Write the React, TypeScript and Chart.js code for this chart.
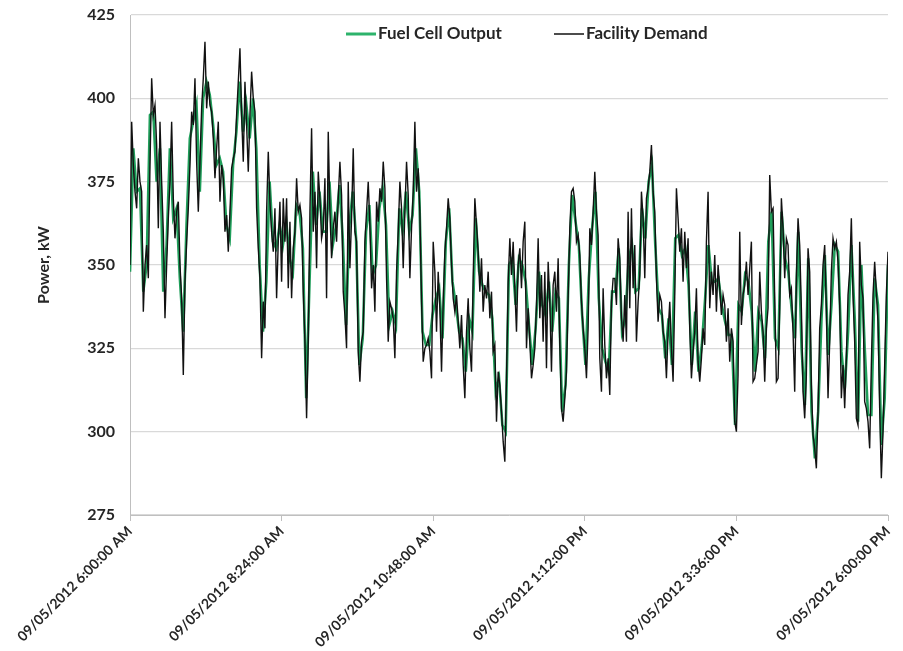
import { useEffect, useRef } from 'react';
import { Chart, registerables } from 'chart.js';

Chart.register(...registerables);

// Facility demand (kW), evenly spaced from 6:00 AM to 6:00 PM
const demand = [
  350, 393, 380, 372, 367, 382, 375, 372, 336, 350, 356, 346, 380, 406, 395, 398, 386, 361, 393, 375,
  360, 334, 350, 364, 375, 393, 370, 358, 366, 369, 350, 340, 317, 345, 357, 367, 380, 396, 392,
  406, 381, 366, 381, 397, 406, 417, 397, 405, 398, 396, 388, 376, 385, 393, 369, 380, 376, 360, 365,
  354, 366, 379, 382, 384, 395, 405, 415, 395, 381, 405, 392, 378, 395, 408, 400, 396, 367, 355, 346,
  322, 339,
  331, 366, 384, 369, 360, 354, 367, 340, 357, 369, 345, 370, 357, 370, 343, 363, 340, 355, 360, 376,
  366, 368, 364, 342, 327, 304, 327, 366, 391, 360, 372, 349, 378, 370, 358, 361, 376, 340, 390, 366,
  352, 361,
  366, 357, 370, 381, 371, 342, 335, 325, 375, 349, 364, 385, 360, 357, 324, 315, 327, 330, 357, 366,
  375, 362, 343, 350, 336, 369, 363, 373, 369, 381, 373, 346, 327, 339, 337, 334, 322, 348, 360, 375,
  367, 349,
  366, 381, 371, 346, 361, 372, 393, 372, 379, 366, 339, 321, 325, 326, 328, 324, 316, 357, 348, 330,
  348, 337, 318, 339, 354, 361, 370, 364, 350, 340, 336, 341, 333, 325, 335, 320, 310, 330, 340, 325,
  318, 346,
  370, 362, 354, 342, 352, 336, 344, 340, 348, 334, 342, 324, 326, 303, 318, 314, 306, 297, 291, 316,
  345, 358, 347, 357, 343, 330, 350, 355, 343, 357, 363, 325, 337, 327, 316, 320, 325, 338, 358, 334,
  347, 327,
  348, 319, 351, 339, 318, 344, 348, 336, 352, 326, 307, 303, 310, 318, 340, 361, 372, 373, 369, 357,
  359, 353, 339, 331, 325, 316, 331, 361, 356, 366, 378, 366, 359, 322, 312, 343, 326, 316, 322, 311,
  339, 346,
  346, 338, 358, 352, 334, 327, 341, 327, 366, 337, 367, 343, 356, 327, 339, 347, 372, 364, 346, 370,
  373, 378, 386, 372, 366, 346, 333, 341, 339, 330, 327, 316, 330, 339, 325, 315, 341, 373, 364, 354,
  361, 345,
  360, 349, 358, 331, 316, 324, 330, 343, 321, 315, 322, 331, 326, 357, 372, 337, 348, 341, 353, 336,
  350, 343, 335, 341, 338, 327, 337, 321, 331, 327, 303, 300, 317, 360, 332, 341, 344, 351, 341, 349,
  357, 315,
  316, 320, 324, 348, 336, 330, 315, 331, 337, 377, 366, 367, 340, 315, 316, 337, 370, 361, 346, 358,
  356, 341, 343, 330, 312, 346, 364, 356, 337, 312, 304, 317, 355, 348, 314, 299, 295, 289, 306,
  331, 338, 350, 356, 337, 310, 327, 348, 358, 355, 357, 351, 338, 310, 320, 307, 322, 341, 348, 364,
  341, 327, 304, 302, 357, 344, 340, 309, 307, 303, 295, 320, 341, 351, 342, 333, 307, 286, 300, 320,
  341, 354,
];

// Fuel cell output (kW), evenly spaced over the same period
const fuelCell = [
  348, 385, 372, 373, 342, 350, 395, 396, 375, 385, 342, 356, 385, 364, 367, 346, 330, 362, 388, 393,
  398, 372, 400, 405, 401, 392, 380, 382, 378, 362, 358, 380, 390, 405, 390, 398, 388, 400, 385, 350,
  330,
  345, 375, 357, 355, 362, 356, 363, 352, 348, 368, 366, 355, 310, 345, 378, 362, 372, 360, 360, 375,
  356,
  362, 374, 358, 332, 362, 372, 358, 320, 328, 360, 368, 347, 350, 367, 373, 362, 332, 336, 332, 367,
  360,
  372, 360, 365, 385, 372, 330, 326, 326, 335, 340, 343, 328, 357, 367, 345, 338, 330, 328, 318, 334,
  330,
  364, 348, 344, 342, 341, 334, 312, 316, 302, 300, 350, 352, 338, 352, 350, 345, 332, 320, 331, 348,
  338,
  335, 345, 330, 342, 340, 306, 314, 350, 371, 363, 356, 335, 320, 346, 361, 372, 340, 325, 321, 318,
  342,
  342, 355, 330, 334, 352, 356, 342, 343, 367, 358, 375, 380, 356, 337, 335, 322, 334, 320, 358, 359,
  353,
  355, 344, 320, 336, 318, 326, 340, 356, 345, 345, 346, 338, 333, 329, 329, 302, 338, 336, 347, 345,
  336,
  318, 336, 333, 322, 357, 366, 328, 325, 366, 352, 348, 337, 328, 360, 325, 308, 352, 306, 292, 306,
  334, 353, 323, 338, 356, 354, 324, 313, 330, 356, 334, 303, 350, 325, 305, 305, 346, 338, 296, 310,
  350,
];

const tickLabels = [
  '09/05/2012 6:00:00 AM',
  '09/05/2012 8:24:00 AM',
  '09/05/2012 10:48:00 AM',
  '09/05/2012 1:12:00 PM',
  '09/05/2012 3:36:00 PM',
  '09/05/2012 6:00:00 PM',
];

const seriesNames = ['Fuel Cell Output', 'Facility Demand'];
const TOTAL_MINUTES = 720;
const TICK_STEP = 144;

function toPoints(values: number[]) {
  const n = values.length;
  return values.map((v, i) => ({ x: (i * TOTAL_MINUTES) / (n - 1), y: v }));
}

const GREEN = '#1f9e5a';
const LEGEND_GREEN = '#2db36b';
const BLACK = '#111111';
const FONT = 'Lato, "Open Sans", sans-serif';

const legendPlugin = {
  id: 'customLegend',
  afterDraw(chart: any) {
    const ctx = chart.ctx as CanvasRenderingContext2D;
    ctx.save();
    ctx.font = `bold 17px ${FONT}`;
    ctx.textBaseline = 'middle';
    ctx.fillStyle = '#262626';
    const y = 34;
    ctx.strokeStyle = LEGEND_GREEN;
    ctx.lineWidth = 3;
    ctx.beginPath();
    ctx.moveTo(346, y);
    ctx.lineTo(376, y);
    ctx.stroke();
    ctx.fillText(seriesNames[0], 378, y);
    ctx.strokeStyle = BLACK;
    ctx.lineWidth = 1.5;
    ctx.beginPath();
    ctx.moveTo(554, y);
    ctx.lineTo(584, y);
    ctx.stroke();
    ctx.fillText(seriesNames[1], 586, y);
    ctx.restore();
  },
};

export default function App() {
  const ref = useRef<HTMLCanvasElement | null>(null);

  useEffect(() => {
    document.body.style.margin = '0';
    if (!ref.current) return;
    const chart = new Chart(ref.current, {
      type: 'line',
      data: {
        datasets: [
          {
            label: seriesNames[0],
            data: toPoints(fuelCell),
            borderColor: GREEN,
            borderWidth: 2.6,
            pointRadius: 0,
            tension: 0,
            order: 1,
          },
          {
            label: seriesNames[1],
            data: toPoints(demand),
            borderColor: BLACK,
            borderWidth: 1.4,
            pointRadius: 0,
            tension: 0,
            order: 0,
          },
        ],
      },
      options: {
        animation: false,
        responsive: false,
        devicePixelRatio: 1,
        parsing: false,
        layout: { padding: { left: 26, top: 15, right: 15, bottom: 0 } },
        plugins: {
          legend: { display: false },
          tooltip: { enabled: false },
        },
        scales: {
          x: {
            type: 'linear',
            min: 0,
            max: TOTAL_MINUTES,
            afterBuildTicks: (scale: any) => {
              scale.ticks = tickLabels.map((_, i) => ({ value: i * TICK_STEP }));
            },
            ticks: {
              autoSkip: false,
              minRotation: 45,
              maxRotation: 45,
              padding: 2,
              color: '#262626',
              font: { family: FONT, weight: 'bold', size: 14 },
              callback: (v: any) => tickLabels[Math.round(Number(v) / TICK_STEP)],
            },
            grid: {
              drawOnChartArea: false,
              drawTicks: true,
              tickLength: 6,
              color: '#bfbfbf',
            },
            border: { color: '#bfbfbf' },
            afterFit: (scale: any) => {
              scale.height = 136;
            },
          },
          y: {
            min: 275,
            max: 425,
            ticks: {
              stepSize: 25,
              padding: 15,
              color: '#262626',
              font: { family: FONT, weight: 'bold', size: 16 },
            },
            grid: { color: '#d9d9d9', lineWidth: 1.3, drawTicks: false },
            border: { color: '#bfbfbf' },
            title: {
              display: true,
              text: 'Power, kW',
              color: '#262626',
              font: { family: FONT, weight: 'bold', size: 16 },
              padding: { top: 8, bottom: 0 },
            },
            afterFit: (scale: any) => {
              scale.width = 104;
              scale.paddingTop = 4;
              scale.paddingBottom = 4;
            },
          },
        },
      } as any,
      plugins: [legendPlugin],
    });
    return () => chart.destroy();
  }, []);

  return (
    <div style={{ width: 903, height: 651 }}>
      <canvas ref={ref} width={903} height={651} style={{ width: 903, height: 651 }} />
    </div>
  );
}
